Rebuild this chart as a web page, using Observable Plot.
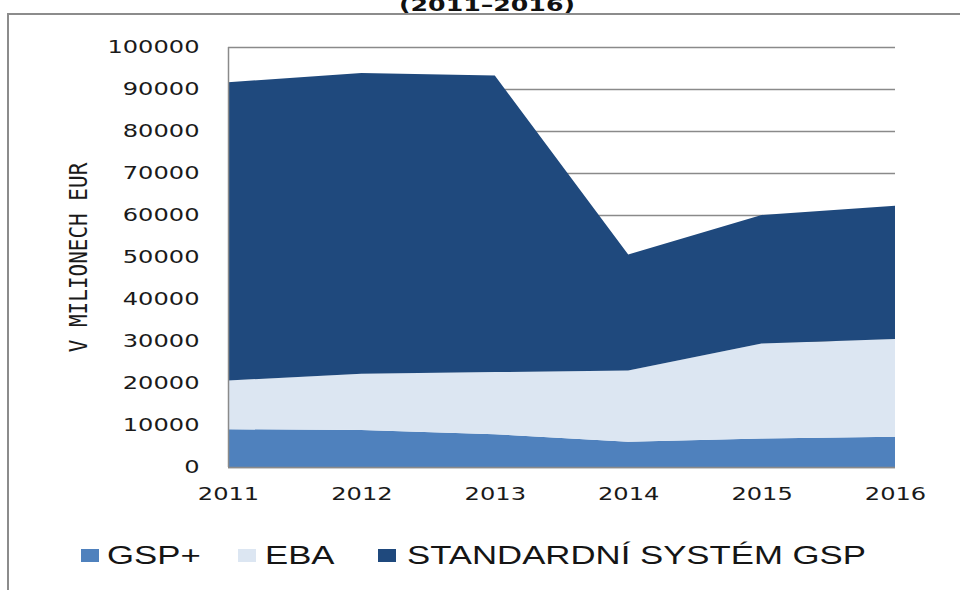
<!DOCTYPE html>
<html>
<head>
<meta charset="utf-8">
<script src="https://cdn.jsdelivr.net/npm/d3@7"></script>
<script src="https://cdn.jsdelivr.net/npm/@observablehq/plot@0.6"></script>
<style>
  html, body { margin: 0; padding: 0; background: #fff; }
  body { width: 960px; height: 590px; overflow: hidden; position: relative; font-family: "DejaVu Sans", sans-serif; }
  #title { position: absolute; left: 0; top: 0; width: 960px; height: 13px; overflow: hidden; }
  #title span { position: absolute; left: 487px; top: -4px; white-space: nowrap; font: bold 18px/18px "DejaVu Sans", sans-serif; color: #111;
    transform-origin: 0 0; transform: scaleX(1.4) translateX(-50%); }
  #box { position: absolute; left: 7px; top: 13px; width: 960px; height: 600px; border-top: 2px solid #8c8c8c; border-left: 2px solid #8c8c8c; }
  #chart svg { display: block; }
  #legend { position: relative; height: 75px; }
  #legend .sw { position: absolute; width: 18px; height: 13px; top: 34px; }
  #legend .lb { position: absolute; top: 28px; white-space: nowrap; font: 25px/25px "Liberation Sans", Arial, sans-serif; color: #151515;
    transform-origin: 0 0; transform: scaleX(1.39); }
</style>
</head>
<body>
<div id="title"><span>(2011–2016)</span></div>
<div id="box">
  <div id="chart"></div>
  <div id="legend"></div>
</div>
<script>
const years = [2011, 2012, 2013, 2014, 2015, 2016];
const seriesNames = ["GSP+", "EBA", "STANDARDNÍ SYSTÉM GSP"];
const seriesColors = ["#4f81bd", "#dce6f2", "#1f497d"];
const gspPlus = [9000, 8800, 7800, 6000, 6800, 7200];
const eba = [11600, 13400, 14800, 17000, 22600, 23300];
const standard = [71000, 71600, 70600, 27600, 30600, 31700];
const yTicks = [0, 10000, 20000, 30000, 40000, 50000, 60000, 70000, 80000, 90000, 100000];
const yLabel = "V MILIONECH EUR";

const seriesValues = [gspPlus, eba, standard];
const rows = [];
seriesNames.forEach((s, i) => years.forEach((y, j) => rows.push({series: s, year: y, value: seriesValues[i][j]})));

const grid = "#8a8a8a";
const chart = Plot.plot({
  width: 951,
  height: 500,
  marginLeft: 219,
  marginRight: 65,
  marginTop: 32,
  marginBottom: 48,
  x: {domain: [2011, 2016]},
  y: {domain: [0, 100000]},
  color: {domain: seriesNames, range: seriesColors},
  style: {fontFamily: "DejaVu Sans", fontSize: "17px", color: "#1a1a1a", background: "white"},
  marks: [
    Plot.ruleY(yTicks, {x1: 2011, x2: 2016, stroke: grid, strokeWidth: 1.3}),
    Plot.areaY(rows, {x: "year", y: "value", z: "series", fill: "series", order: seriesNames}),
    Plot.ruleX([2011], {stroke: grid, strokeWidth: 1.5}),
    Plot.ruleY([0], {stroke: grid, strokeWidth: 1.5}),
    Plot.axisY({ticks: yTicks, tickSize: 0, tickPadding: 29, label: null, tickFormat: d => String(d)}),
    Plot.axisX({ticks: years, tickSize: 0, tickPadding: 20, label: null, tickFormat: d => String(d)}),
    Plot.text([yLabel], {text: d => d, frameAnchor: "left", textAnchor: "middle", dx: -150, rotate: -90,
      fontFamily: "DejaVu Sans Mono", fontSize: 21, fill: "#1a1a1a"})
  ]
});
document.getElementById("chart").appendChild(chart);

// horizontal stretch of the reference's lettering
d3.select(chart).selectAll('g[aria-label="y-axis tick label"] text, g[aria-label="x-axis tick label"] text')
  .attr("transform", function() { return (this.getAttribute("transform") || "") + " scale(1.42,1)"; });
d3.select(chart).selectAll('g[aria-label="text"] text')
  .attr("transform", function() { return (this.getAttribute("transform") || "") + " scale(1,1.2)"; });

// legend (page x minus container offset 9)
const legendItems = [
  {sw: 81, lb: 107},
  {sw: 238, lb: 265},
  {sw: 378, lb: 407}
];
const legend = d3.select("#legend");
seriesNames.forEach((s, i) => {
  legend.append("div").attr("class", "sw").style("left", (legendItems[i].sw - 9) + "px").style("background", seriesColors[i]);
  legend.append("div").attr("class", "lb").style("left", (legendItems[i].lb - 9) + "px").text(s);
});
</script>
</body>
</html>
